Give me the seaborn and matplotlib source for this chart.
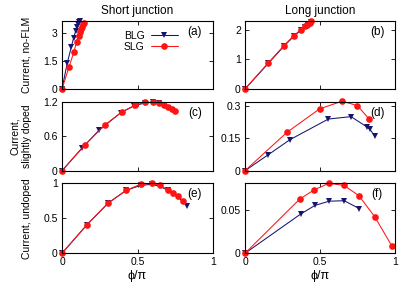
import numpy as np
import pandas as pd
import seaborn as sns
import matplotlib
matplotlib.use('Agg')
import matplotlib.pyplot as plt

# (a) short junction, no-FLM
a_blg_x = [0, 0.035, 0.062, 0.077, 0.09, 0.1, 0.106, 0.112, 0.118]
a_blg_y = [0, 1.4, 2.27, 2.75, 3.1, 3.35, 3.5, 3.6, 3.65]
a_slg_x = [0, 0.046, 0.079, 0.097, 0.11, 0.12, 0.128, 0.134, 0.14, 0.145]
a_slg_y = [0, 1.17, 2.0, 2.53, 2.85, 3.05, 3.22, 3.35, 3.47, 3.55]

# (b) long junction, no-FLM
b_blg_x = [0, 0.156, 0.26, 0.325, 0.37, 0.4, 0.42, 0.44]
b_blg_y = [0, 0.87, 1.45, 1.78, 1.98, 2.1, 2.17, 2.25]
b_slg_x = [0, 0.156, 0.26, 0.325, 0.37, 0.4, 0.415, 0.43, 0.44]
b_slg_y = [0, 0.89, 1.47, 1.8, 2.0, 2.13, 2.18, 2.24, 2.3]

# (c) short junction, slightly doped
c_blg_x = [0, 0.13, 0.245, 0.39, 0.48, 0.55, 0.6, 0.64]
c_blg_y = [0, 0.39, 0.71, 1.02, 1.14, 1.19, 1.2, 1.18]
c_slg_x = [0, 0.152, 0.287, 0.397, 0.483, 0.55, 0.6, 0.642, 0.675, 0.704, 0.726, 0.746]
c_slg_y = [0, 0.45, 0.81, 1.03, 1.15, 1.2, 1.2, 1.18, 1.15, 1.12, 1.09, 1.05]

# (d) long junction, slightly doped
d_blg_x = [0, 0.156, 0.3, 0.556, 0.707, 0.816, 0.833, 0.867]
d_blg_y = [0, 0.074, 0.143, 0.238, 0.249, 0.2, 0.19, 0.158]
d_slg_x = [0, 0.28, 0.498, 0.647, 0.749, 0.825]
d_slg_y = [0, 0.177, 0.285, 0.32, 0.3, 0.24]

# (e) short junction, undoped
e_blg_x = [0, 0.166, 0.307, 0.426, 0.52, 0.594, 0.65, 0.7, 0.737, 0.77, 0.83]
e_blg_y = [0, 0.41, 0.72, 0.9, 0.97, 0.985, 0.955, 0.9, 0.85, 0.8, 0.676]
e_slg_x = [0, 0.166, 0.307, 0.426, 0.52, 0.594, 0.65, 0.7, 0.737, 0.77, 0.8]
e_slg_y = [0, 0.41, 0.72, 0.9, 0.986, 1.0, 0.97, 0.91, 0.866, 0.82, 0.75]

# (f) long junction, undoped
f_blg_x = [0, 0.371, 0.467, 0.562, 0.662, 0.762]
f_blg_y = [0, 0.0457, 0.0558, 0.0607, 0.0612, 0.052]
f_slg_x = [0, 0.364, 0.462, 0.56, 0.66, 0.76, 0.867, 0.978]
f_slg_y = [0, 0.063, 0.074, 0.0815, 0.079, 0.067, 0.042, 0.0088]

sns.set_style('ticks', {'axes.edgecolor': 'black', 'xtick.color': 'black',
                        'ytick.color': 'black', 'text.color': 'black',
                        'axes.labelcolor': 'black'})
plt.rcParams['font.family'] = ['Liberation Sans', 'DejaVu Sans']
plt.rcParams['axes.linewidth'] = 0.8

fig = plt.figure(figsize=(4.15, 2.91), dpi=100)

left_x, right_x = 62 / 415, 245 / 415
col_w = [151 / 415, 150 / 415]
rows = [(1 - 89 / 291, 68 / 291), (1 - 170.7 / 291, 68.4 / 291), (1 - 253.3 / 291, 70 / 291)]

panels = [
    ('a', a_blg_x, a_blg_y, a_slg_x, a_slg_y, 3.65, [0, 1.5, 3], ['0', '1.5', '3']),
    ('b', b_blg_x, b_blg_y, b_slg_x, b_slg_y, 2.3, [0, 1, 2], ['0', '1', '2']),
    ('c', c_blg_x, c_blg_y, c_slg_x, c_slg_y, 1.2, [0, 0.6, 1.2], ['0', '0.6', '1.2']),
    ('d', d_blg_x, d_blg_y, d_slg_x, d_slg_y, 0.315, [0, 0.15, 0.3], ['0', '0.15', '0.3']),
    ('e', e_blg_x, e_blg_y, e_slg_x, e_slg_y, 1.0, [0, 0.5, 1], ['0', '0.5', '1']),
    ('f', f_blg_x, f_blg_y, f_slg_x, f_slg_y, 0.0815, [0, 0.05], ['0', '0.05']),
]
ylabels = ['Current, no-FLM', 'Current,\nslightly doped', 'Current, undoped']
palette = {'BLG': '#15156e', 'SLG': '#ff1414'}

for i, (tag, bx, by, sx, sy, ymax, yt, ytl) in enumerate(panels):
    row, col = i // 2, i % 2
    ax = fig.add_axes([left_x if col == 0 else right_x, rows[row][0], col_w[col], rows[row][1]])
    df = pd.concat([
        pd.DataFrame({'phi': bx, 'cur': by, 'sample': 'BLG'}),
        pd.DataFrame({'phi': sx, 'cur': sy, 'sample': 'SLG'}),
    ], ignore_index=True)
    sns.lineplot(data=df, x='phi', y='cur', hue='sample', style='sample',
                 hue_order=['BLG', 'SLG'], style_order=['BLG', 'SLG'],
                 markers={'BLG': 'v', 'SLG': 'o'}, dashes=False, palette=palette,
                 sort=False, estimator=None, linewidth=0.75, markersize=4.8,
                 markeredgewidth=0, legend=(tag == 'a'), ax=ax, clip_on=False)
    ax.set_xlim(0, 1)
    ax.set_ylim(0, ymax)
    ax.set_xticks([0, 0.5, 1])
    ax.set_yticks(yt)
    ax.set_yticklabels(ytl)
    ax.tick_params(direction='in', top=True, right=True, length=3, width=0.6,
                   labelsize=7.5, pad=3)
    if row == 2:
        ax.set_xticklabels(['0', '0.5', '1'])
        ax.set_xlabel('ϕ/π', fontsize=9, labelpad=2)
    else:
        ax.set_xticklabels([])
        ax.set_xlabel('')
    if col == 0:
        ax.set_ylabel(ylabels[row], fontsize=7.5)
        ax.yaxis.set_label_coords(-0.2, 0.5)
    else:
        ax.set_ylabel('')
    for sp in ax.spines.values():
        sp.set_visible(True)
    ax.text(0.88, 0.84, '(%s)' % tag, transform=ax.transAxes, ha='center',
            va='center', fontsize=8.5)
    if row == 0:
        ax.set_title('Short junction' if col == 0 else 'Long junction',
                     fontsize=8.5, pad=5)
    if tag == 'a':
        handles, labels = ax.get_legend_handles_labels()
        for h in handles:
            h.set_markeredgewidth(0)
        ax.legend(handles, labels, loc='upper left', bbox_to_anchor=(0.41, 0.86),
                  frameon=False, markerfirst=False, fontsize=7.5, handlelength=2.6,
                  handletextpad=0.6, labelspacing=0.1, borderpad=0, borderaxespad=0)

fig.savefig('out.png', dpi=100)
